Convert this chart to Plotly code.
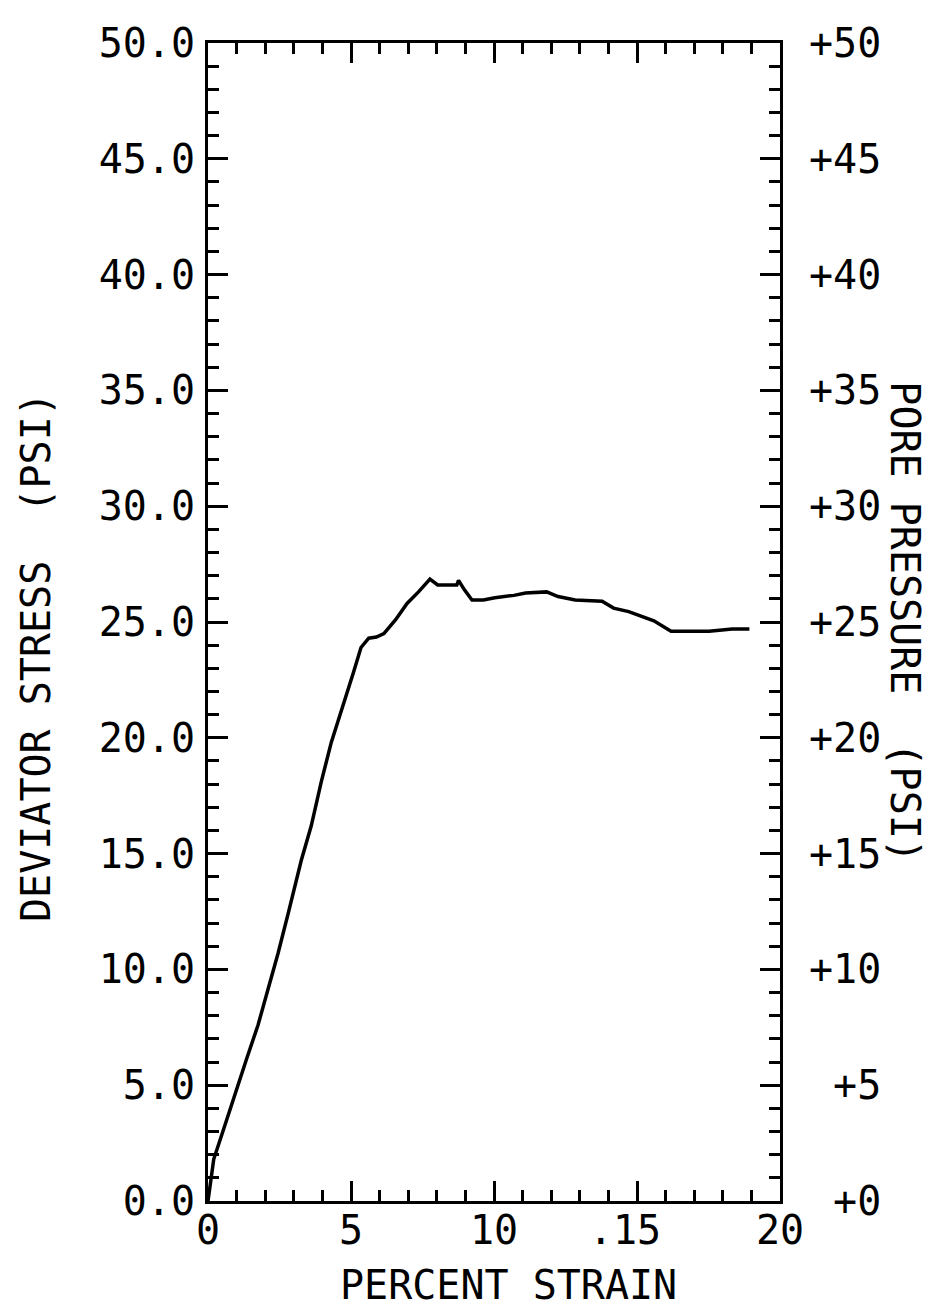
import plotly.graph_objects as go

# Data
strain = [0.0, 0.1, 0.2, 0.6, 0.99, 1.34, 1.75, 2.10, 2.45, 2.80, 3.26, 3.61,
          3.96, 4.31, 4.68, 5.08, 5.35, 5.62, 5.89, 6.15, 6.56, 6.96, 7.36, 7.76, 8.03,
          8.70, 8.76, 8.96, 9.23, 9.63, 10.03, 10.70, 11.10, 11.84, 12.24, 12.84, 13.78,
          14.18, 14.71, 15.59, 16.19, 16.72, 17.52, 18.33, 18.93]
deviator_stress = [0.0, 1.0, 1.8, 3.3, 4.8, 6.1, 7.6, 9.15, 10.7, 12.4, 14.7, 16.2,
                   18.1, 19.8, 21.2, 22.8, 23.9, 24.3, 24.35, 24.5, 25.1, 25.8, 26.3, 26.85,
                   26.6, 26.6, 26.8, 26.4, 25.95, 25.95, 26.05, 26.15, 26.25, 26.3, 26.1,
                   25.95, 25.9, 25.6, 25.45, 25.05, 24.6, 24.6, 24.6, 24.7, 24.7]

x_tickvals = [0, 5, 10, 15, 20]
x_ticktext = ["0", "5", "10", ".15\u00a0", "20"]
y_tickvals = [0, 5, 10, 15, 20, 25, 30, 35, 40, 45, 50]
y_ticktext = ["0.0", "5.0", "10.0", "15.0", "20.0", "25.0", "30.0", "35.0", "40.0", "45.0", "50.0"]
y2_ticktext = ["\u00a0+0", "\u00a0+5", "+10", "+15", "+20", "+25", "+30", "+35", "+40", "+45", "+50"]

FONT = "DejaVu Sans Mono"
fs = 40

fig = go.Figure()
fig.add_trace(go.Scatter(x=strain, y=deviator_stress, mode="lines",
                         line=dict(color="black", width=3.5), showlegend=False))
# invisible trace to activate right axis
fig.add_trace(go.Scatter(x=[0, 20], y=[0, 50], yaxis="y2", mode="none",
                         showlegend=False, hoverinfo="skip"))

axis_common = dict(showgrid=False, zeroline=False, showline=True, linecolor="black",
                   linewidth=3, ticks="inside", tickcolor="black", tickwidth=2.5,
                   ticklen=20, mirror="ticks",
                   tickfont=dict(family=FONT, size=fs, color="black"))

fig.update_layout(
    width=931, height=1310,
    margin=dict(l=200, r=159, t=32, b=117),
    paper_bgcolor="white", plot_bgcolor="white",
    xaxis=dict(range=[0, 20], tickvals=x_tickvals, ticktext=x_ticktext,
               minor=dict(dtick=1, ticks="inside", ticklen=11, tickwidth=2.5, tickcolor="black"),
               ticklabelstandoff=-8, **axis_common),
    yaxis=dict(range=[0, 50], tickvals=y_tickvals, ticktext=y_ticktext,
               minor=dict(dtick=1, ticks="inside", ticklen=11, tickwidth=2.5, tickcolor="black"),
               ticklabelstandoff=2, **axis_common),
    yaxis2=dict(range=[0, 50], overlaying="y", side="right", tickvals=y_tickvals,
                ticktext=y2_ticktext, showgrid=False, zeroline=False, showline=False,
                ticks="", ticklabelstandoff=28,
                tickfont=dict(family=FONT, size=fs, color="black")),
    annotations=[
        dict(text="PERCENT STRAIN", xref="paper", yref="paper", x=0.526, y=-0.094,
             xanchor="center", yanchor="bottom", showarrow=False,
             font=dict(family=FONT, size=fs, color="black")),
        dict(text="DEVIATOR STRESS\u00a0\u00a0(PSI)", xref="paper", yref="paper",
             x=-0.302, y=0.47, xanchor="center", yanchor="middle", textangle=-90,
             showarrow=False, font=dict(family=FONT, size=fs, color="black")),
        dict(text="PORE PRESSURE\u00a0\u00a0(PSI)", xref="paper", yref="paper",
             x=1.218, y=0.50, xanchor="center", yanchor="middle", textangle=90,
             showarrow=False, font=dict(family=FONT, size=fs, color="black")),
    ],
)

fig.write_html("out.html")
